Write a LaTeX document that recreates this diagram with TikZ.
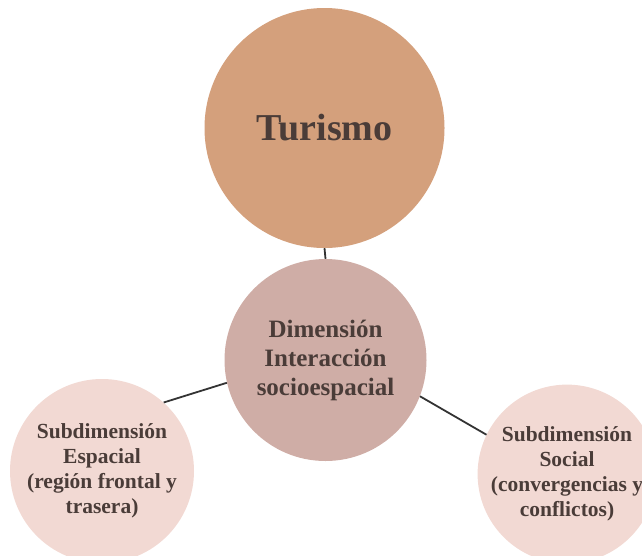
\documentclass[tikz,border=0pt]{standalone}
\usepackage{fontspec}
\setmainfont{Liberation Serif}
\definecolor{topfill}{HTML}{D4A07C}
\definecolor{midfill}{HTML}{CFADA6}
\definecolor{outfill}{HTML}{F2D9D3}
\definecolor{txt}{HTML}{4A3C38}
\definecolor{lin}{HTML}{333333}
\begin{document}
\begin{tikzpicture}[x=1pt,y=-1pt,
  bubble/.style={circle,inner sep=0pt,align=center,text=txt,font=\bfseries},
  link/.style={draw=lin,line width=1.8pt}]
\useasboundingbox (0,0) rectangle (642,555);
\clip (0,0) rectangle (642,555);
\node[bubble,fill=topfill,minimum size=240pt,font=\bfseries\fontsize{38}{42}\selectfont] (top) at (324.5,128) {Turismo};
\node[bubble,fill=midfill,minimum size=202pt,font=\bfseries\fontsize{25}{29}\selectfont] (mid) at (325.5,360) {Dimensión\\Interacción\\socioespacial};
\node[bubble,fill=outfill,minimum size=184pt,font=\bfseries\fontsize{21.5}{25}\selectfont] (left) at (102,471) {Subdimensión\\Espacial\\(región frontal y\\trasera)};
\node[bubble,fill=outfill,minimum size=176pt,font=\bfseries\fontsize{21.5}{25}\selectfont] (right) at (567,474) {Subdimensión\\Social\\(convergencias y\\conflictos)};
\draw[link] (top.south) -- (mid.north);
\draw[link] (mid.193) -- (left.48);
\draw[link] (mid.-21) -- (right.154);
\end{tikzpicture}
\end{document}
